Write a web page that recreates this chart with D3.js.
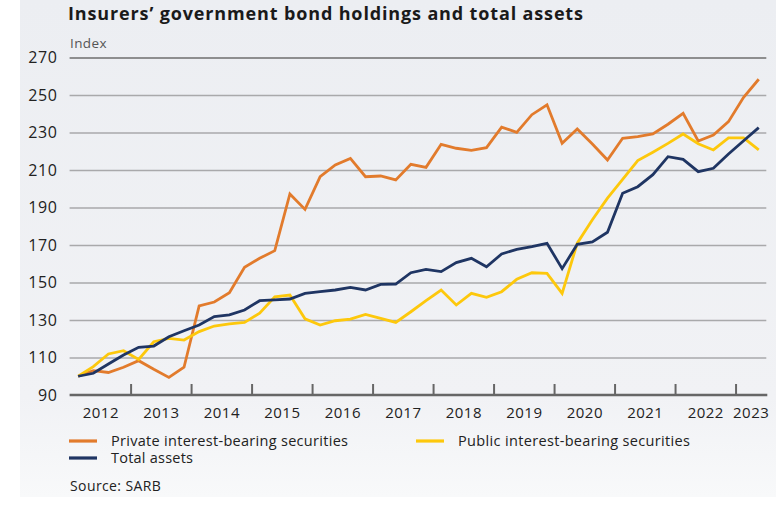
<!DOCTYPE html>
<html>
<head>
<meta charset="utf-8">
<script src="https://cdn.jsdelivr.net/npm/d3@7"></script>
<style>
  html, body { margin: 0; padding: 0; background: #ffffff; }
  svg { display: block; font-family: "Open Sans", Lato, sans-serif; }
</style>
</head>
<body>
<svg id="chart" width="781" height="505"></svg>
<script>
// Quarterly index values (2012 Q1 = 100), 2012 Q1 – 2023 Q2
const years = ["2012", "2013", "2014", "2015", "2016", "2017", "2018", "2019", "2020", "2021", "2022", "2023"];
const quarterCounts = [4, 4, 4, 4, 4, 4, 4, 4, 4, 4, 4, 2];
const quarters = years.flatMap((yr, i) => d3.range(quarterCounts[i]).map(q => `${yr}Q${q + 1}`));

const privateSecurities = [
  100, 103, 102, 104.8, 108.3, 103.7, 99.4, 104.8,
  137.5, 139.6, 144.6, 158.1, 162.9, 167, 197.2, 189,
  206.4, 212.7, 216.2, 206.4, 206.8, 204.7, 213, 211.4,
  223.7, 221.6, 220.5, 221.9, 232.9, 230.1, 239.5, 244.8,
  224.2, 231.9, 223.9, 215.3, 226.9, 227.8, 229.2, 234.4,
  240.2, 225.5, 228.7, 235.8, 248.8, 258.4
];
const publicSecurities = [
  100, 105.1, 111.9, 113.6, 109, 118.4, 120.2, 119.3,
  123.8, 126.8, 127.9, 128.7, 133.6, 142.4, 143.3, 130.6,
  127.3, 129.6, 130.5, 133, 130.9, 128.7, 134.4, 140.3,
  146, 138, 144.2, 142.1, 145.1, 151.7, 155.2, 154.9,
  144.2, 171, 183.5, 195, 205, 215, 219.5, 224.2,
  229.2, 224, 220.7, 227.1, 227.1, 220.7
];
const totalAssets = [
  100, 101.6, 106.5, 111.3, 115.4, 116.1, 121.1, 124.3,
  127.3, 131.8, 132.7, 135.3, 140.3, 140.7, 141.2, 144.2,
  145.1, 146, 147.4, 146, 149, 149.2, 155.2, 157,
  155.8, 160.6, 162.9, 158.4, 165.2, 167.7, 169.1, 170.9,
  157.4, 170.4, 171.6, 176.8, 197.6, 201.1, 207.5, 217.1,
  215.7, 209.1, 210.9, 218.5, 225.6, 232.6
];
const yTicks = [90, 110, 130, 150, 170, 190, 210, 230, 250, 270];

const seriesList = [
  { name: "Private interest-bearing securities", values: privateSecurities, color: "#e27b2c" },
  { name: "Public interest-bearing securities", values: publicSecurities, color: "#fdc80c" },
  { name: "Total assets", values: totalAssets, color: "#1f3563" }
];

const svg = d3.select("#chart");

// Panel background
const defs = svg.append("defs");
const grad = defs.append("linearGradient").attr("id", "bg").attr("x1", 0).attr("y1", 0).attr("x2", 0).attr("y2", 1);
grad.append("stop").attr("offset", "0%").attr("stop-color", "#eceef2");
grad.append("stop").attr("offset", "80%").attr("stop-color", "#f1f2f5");
grad.append("stop").attr("offset", "100%").attr("stop-color", "#f8f9fa");
svg.append("rect").attr("x", 20).attr("y", 0).attr("width", 756).attr("height", 497).attr("fill", "url(#bg)");

const plotLeft = 70.6, plotRight = 766.3, plotTop = 57.5, plotBottom = 395;

const x = d3.scaleLinear().domain([-0.5, quarters.length - 0.5]).range([plotLeft, plotRight]);
const y = d3.scaleLinear().domain([90, 270]).range([plotBottom, plotTop]);

// Title and unit
svg.append("text").attr("x", 68).attr("y", 20)
  .attr("font-size", 18).attr("font-weight", 700).attr("fill", "#1a1a1a")
  .attr("textLength", 515).attr("lengthAdjust", "spacing")
  .text("Insurers’ government bond holdings and total assets");
svg.append("text").attr("x", 70).attr("y", 48)
  .attr("font-size", 13.5).attr("fill", "#555").attr("letter-spacing", 0.4).text("Index");

// Horizontal gridlines
const yAxis = d3.axisLeft(y).tickValues(yTicks).tickSize(-(plotRight - plotLeft + 1)).tickPadding(12);
const gy = svg.append("g").attr("transform", `translate(${plotLeft - 1},0)`).call(yAxis);
gy.select(".domain").remove();
gy.selectAll(".tick line")
  .attr("stroke", d => d === 270 ? "#6e6e6e" : "#a9a9ab")
  .attr("stroke-width", d => d === 270 ? 1.6 : 1.3);
gy.selectAll(".tick text")
  .attr("font-size", 16).attr("fill", "#222").attr("letter-spacing", 0.6)
  .attr("font-family", "'Open Sans', sans-serif");
gy.selectAll(".tick").filter(d => d === 90).select("line").remove();

// Bottom axis with year ticks at year boundaries
const boundaries = d3.cumsum(quarterCounts).slice(0, -1).map(c => c - 0.5);
const gx = svg.append("g");
gx.append("line")
  .attr("x1", plotLeft - 1).attr("x2", plotRight + 1)
  .attr("y1", y(90)).attr("y2", y(90))
  .attr("stroke", "#666").attr("stroke-width", 2.4);
gx.selectAll("line.tick").data(boundaries).join("line")
  .attr("class", "tick")
  .attr("x1", d => x(d)).attr("x2", d => x(d))
  .attr("y1", y(90)).attr("y2", y(90) - 11)
  .attr("stroke", "#666").attr("stroke-width", 2);

const starts = [0, ...d3.cumsum(quarterCounts).slice(0, -1)];
gx.selectAll("text").data(years).join("text")
  .attr("x", (d, i) => x(starts[i] - 0.5 + quarterCounts[i] / 2))
  .attr("y", 418)
  .attr("text-anchor", "middle")
  .attr("font-size", 15).attr("fill", "#222").attr("letter-spacing", 0.5)
  .text(d => d);

// Series lines
const line = d3.line().x((d, i) => x(i)).y(d => y(d));
svg.append("g").selectAll("path").data(seriesList).join("path")
  .attr("d", d => line(d.values))
  .attr("fill", "none")
  .attr("stroke", d => d.color)
  .attr("stroke-width", 2.8)
  .attr("stroke-linejoin", "miter")
  .attr("stroke-linecap", "butt");

// Legend
const legendItems = [
  { s: seriesList[0], x: 69, y: 441, w: 237 },
  { s: seriesList[1], x: 416, y: 441, w: 232 },
  { s: seriesList[2], x: 69, y: 458, w: 82 }
];
const lg = svg.append("g").selectAll("g").data(legendItems).join("g")
  .attr("transform", d => `translate(${d.x},${d.y})`);
lg.append("line").attr("x1", 0).attr("x2", 28).attr("y1", 0).attr("y2", 0)
  .attr("stroke", d => d.s.color).attr("stroke-width", 3.2);
lg.append("text").attr("x", 42).attr("y", 5)
  .attr("font-size", 14.5).attr("fill", "#222")
  .attr("textLength", d => d.w).attr("lengthAdjust", "spacing")
  .text(d => d.s.name);

// Source note
svg.append("text").attr("x", 70).attr("y", 491)
  .attr("font-size", 14).attr("fill", "#222").attr("letter-spacing", 0.4).text("Source: SARB");
</script>
</body>
</html>
